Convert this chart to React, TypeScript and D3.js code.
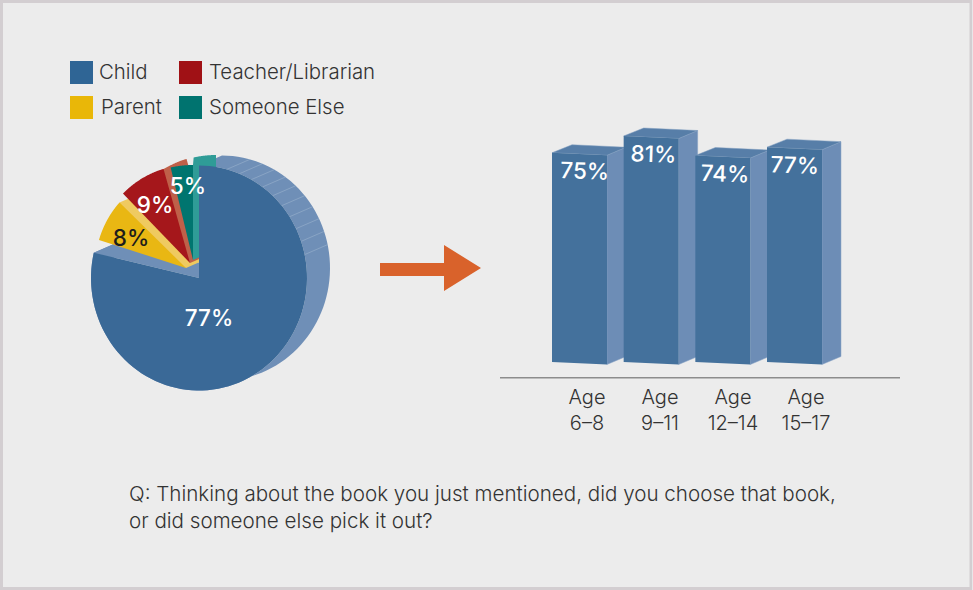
import React from "react";
import * as d3 from "d3";

const W = 973, H = 590;
const FONT = "Inter, 'Open Sans', sans-serif";

// Data
const legendLabels = ["Child", "Parent", "Teacher/Librarian", "Someone Else"];
const pieCategories = ["Child", "Parent", "Teacher/Librarian", "Someone Else"];
const pieValues = [77, 8, 9, 5];
const barCategories = [["Age", "6–8"], ["Age", "9–11"], ["Age", "12–14"], ["Age", "15–17"]];
const barValues = [75, 81, 74, 77];
const question = [
  "Q: Thinking about the book you just mentioned, did you choose that book,",
  "or did someone else pick it out?",
];

// Styles / layout
const topColors = ["#3a6997", "#e9b713", "#a5171b", "#00756f"];
const sideColors = ["#6f8fb7", "#efca60", "#bf6049", "#2f9c97"];
const legendColors: Record<string, string> = {
  Child: "#2f6595", Parent: "#e9b708", "Teacher/Librarian": "#a01115", "Someone Else": "#00736f",
};
const legendPos = [
  { x: 70, y: 61, tx: 99 }, { x: 70, y: 96, tx: 101 },
  { x: 179, y: 61, tx: 209 }, { x: 179, y: 96, tx: 209 },
];
// degrees trimmed from the start and end of each slice's share, apex and radii
const sliceGeom = [
  { s: 0, e: 3, ax: 199, ay: 278, rx: 108, ry: 112.5 },
  { s: 7, e: 4, ax: 186, ay: 268, rx: 91, ry: 96 },
  { s: 6, e: 2, ax: 190, ay: 263, rx: 95, ry: 98 },
  { s: 5, e: 0, ax: 193, ay: 260, rx: 98, ry: 95 },
];
const pieLabelPos = [
  { x: 209, y: 326, fill: "#fff" }, { x: 131, y: 246, fill: "#1d1d1b" },
  { x: 155, y: 213, fill: "#fff" }, { x: 188, y: 194, fill: "#fff" },
];
const barLabelDx = [5, 2, 2, 0];
const EX = 23, EY = -10;
const rad = (d: number) => (d * Math.PI) / 180;
const rimTicks = [15, 22, 29, 36, 43, 50, 57, 64, 71, 78];

type P = [number, number];
const polar = (g: (typeof sliceGeom)[number], a: number): P => [
  g.ax + g.rx * Math.sin(a), g.ay - g.ry * Math.cos(a),
];
const line = d3.line<P>();
const shift = (p: P): P => [p[0] + EX, p[1] + EY];

const pieArcs = d3.pie<number>().sort(null).startAngle(0).endAngle(2 * Math.PI)(pieValues);
const slices = pieArcs.map((arc, i) => {
  const g = sliceGeom[i];
  const a0 = arc.startAngle + rad(g.s), a1 = arc.endAngle + rad(g.e);
  const rimPts = d3.range(0, 101).map((k) => polar(g, a0 + ((a1 - a0) * k) / 100));
  const apex: P = [g.ax, g.ay];
  return { i, g, a0, a1, rimPts, apex, top: [apex, ...rimPts] as P[] };
});

const y = d3.scaleLinear().domain([0, 100]).range([362, 83]);
const x = d3.scaleBand<number>().domain(d3.range(barValues.length)).range([552, 822]).paddingInner(0.2326).paddingOuter(0).align(0);
const labelX = d3.scalePoint<number>().domain(d3.range(barValues.length)).range([587, 806]);
const DX = 19, DY = -8, TILT = 2.5;

function Pie() {
  const blue = slices[0];
  const blueSide = line([...blue.rimPts, ...blue.rimPts.map(shift).reverse()]) + "Z";
  const lastRim = blue.rimPts[100];
  const notch = line([blue.apex, lastRim, shift(lastRim), shift(blue.apex)]) + "Z";
  return (
    <g>
      <path d={blueSide} fill={sideColors[0]} />
      {rimTicks.map((t) => {
        const p = polar(blue.g, rad(t));
        return <path key={t} d={line([p, shift(p)]) ?? ""} stroke="#a3b9d3" strokeWidth={0.7} strokeOpacity={0.7} fill="none" />;
      })}
      <path d={notch} fill={sideColors[0]} />
      {slices.slice(1).map((s) => {
        const end = s.rimPts[100];
        const hull = d3.polygonHull([s.apex, shift(s.apex), end, ...s.rimPts.map(shift)]) as P[];
        return (
          <g key={s.i}>
            <path d={line(hull) + "Z"} fill={sideColors[s.i]} />
            <path d={line(s.top) + "Z"} fill={topColors[s.i]} />
          </g>
        );
      })}
      <path d={line(blue.top) + "Z"} fill={topColors[0]} />
      {pieValues.map((v, i) => (
        <text key={pieCategories[i]} x={pieLabelPos[i].x} y={pieLabelPos[i].y} textAnchor="middle"
          fontSize={22.5} fontWeight={480} fill={pieLabelPos[i].fill}>{v}%</text>
      ))}
    </g>
  );
}

function Bars() {
  const bw = x.bandwidth();
  return (
    <g>
      {barValues.map((v, i) => {
        const l = x(i)!, r = l + bw, t = y(v), b = y(0);
        const front: P[] = [[l, t], [r, t + TILT], [r, b + TILT], [l, b]];
        const side: P[] = [[r, t + TILT], [r + DX, t + TILT + DY], [r + DX, b + TILT + DY], [r, b + TILT]];
        const top: P[] = [[l, t], [l + DX + 1, t + DY], [r + DX, t + TILT + DY], [r, t + TILT]];
        return (
          <g key={i}>
            <path d={line(side) + "Z"} fill="#6d8db6" stroke="#8aa4c6" strokeWidth={0.5} />
            <path d={line(top) + "Z"} fill="#577ea8" stroke="#7f9cbf" strokeWidth={0.5} />
            <path d={line(front) + "Z"} fill="#44719c" />
            <text x={(l + r) / 2 + barLabelDx[i]} y={t + 26} textAnchor="middle" fontSize={22.5} fontWeight={480} fill="#fff"
              transform={`rotate(2 ${(l + r) / 2} ${t + 26})`}>{v}%</text>
          </g>
        );
      })}
      <line x1={500} x2={900} y1={377.7} y2={377.7} stroke="#8c8c8c" strokeWidth={1.6} />
      {barCategories.map((c, i) => (
        <text key={c[1]} textAnchor="middle" fontSize={20} fontWeight={300} fill="#333">
          <tspan x={labelX(i)!} y={404}>{c[0]}</tspan>
          <tspan x={labelX(i)!} y={430}>{c[1]}</tspan>
        </text>
      ))}
    </g>
  );
}

export default function App() {
  return (
    <svg width={W} height={H} viewBox={`0 0 ${W} ${H}`} fontFamily={FONT}
      style={{ position: "absolute", left: 0, top: 0, display: "block" }}>
      <rect x={0} y={0} width={W} height={H} fill="#fff" />
      <rect x={1.5} y={1.5} width={W - 3.5} height={H - 3} fill="#ececec" stroke="#d3ced1" strokeWidth={3} />
      {legendLabels.map((l, i) => (
        <g key={l}>
          <rect x={legendPos[i].x} y={legendPos[i].y} width={23} height={23} fill={legendColors[l]} />
          <text x={legendPos[i].tx} y={legendPos[i].y + 18} fontSize={20.4} fontWeight={300} fill="#333">{l}</text>
        </g>
      ))}
      <Pie />
      <path d="M380 263H444V245L481 268L444 291V276H380Z" fill="#d9622b" />
      <Bars />
      {question.map((q, i) => (
        <text key={i} x={129} y={501 + i * 27} fontSize={20.6} fontWeight={300} fill="#333">{q}</text>
      ))}
    </svg>
  );
}
